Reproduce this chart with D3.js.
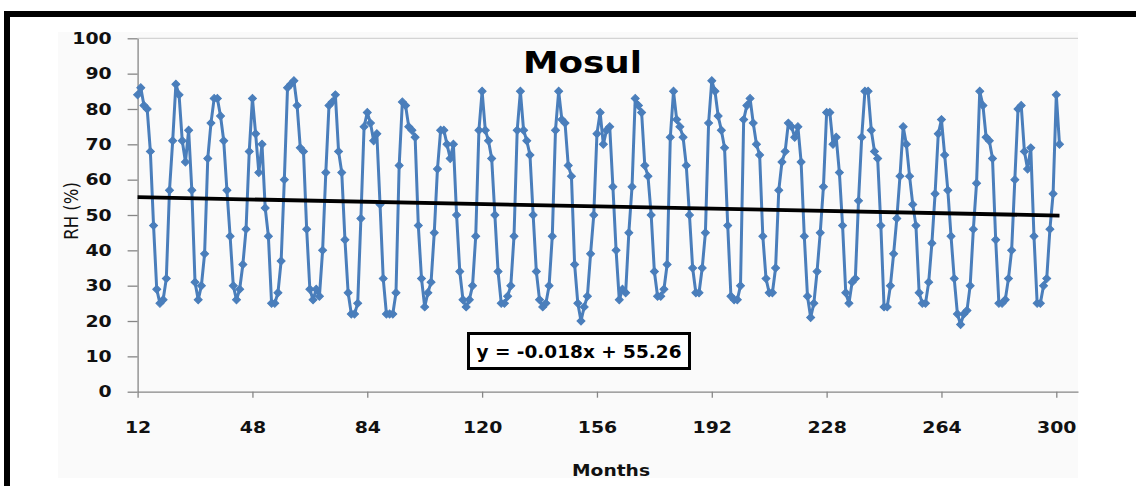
<!DOCTYPE html>
<html>
<head>
<meta charset="utf-8">
<script src="https://cdn.jsdelivr.net/npm/d3@7/dist/d3.min.js"></script>
<style>
  html, body { margin: 0; padding: 0; background: #ffffff; }
  svg { display: block; font-family: "DejaVu Sans", Verdana, sans-serif; }
</style>
</head>
<body>
<svg id="chart" width="1136" height="486"></svg>
<script>
// Monthly relative humidity, Mosul (one value per month, starting at month 12)
const firstMonth = 12;
const rhValues = [
  84, 86, 81, 80, 68, 47, 29, 25, 26, 32, 57, 71,
  87, 84, 71, 65, 74, 57, 31, 26, 30, 39, 66, 76,
  83, 83, 78, 71, 57, 44, 30, 26, 29, 36, 46, 68,
  83, 73, 62, 70, 52, 44, 25, 25, 28, 37, 60, 86,
  87, 88, 81, 69, 68, 46, 29, 26, 29, 27, 40, 62,
  81, 82, 84, 68, 62, 43, 28, 22, 22, 25, 49, 75,
  79, 76, 71, 73, 53, 32, 22, 22, 22, 28, 64, 82,
  81, 75, 74, 72, 47, 32, 24, 28, 31, 45, 63, 74,
  74, 70, 66, 70, 50, 34, 26, 24, 26, 30, 44, 74,
  85, 74, 71, 66, 50, 34, 25, 25, 27, 30, 44, 74,
  85, 74, 71, 67, 50, 34, 26, 24, 25, 30, 44, 74,
  85, 77, 76, 64, 61, 36, 25, 20, 24, 27, 39, 50,
  73, 79, 70, 74, 75, 58, 40, 26, 29, 28, 45, 58,
  83, 81, 79, 64, 61, 50, 34, 27, 27, 29, 36, 72,
  85, 77, 75, 72, 64, 50, 35, 28, 28, 35, 45, 76,
  88, 85, 78, 74, 69, 47, 27, 26, 26, 30, 77, 81,
  83, 76, 70, 67, 44, 32, 28, 28, 35, 57, 65, 68,
  76, 75, 72, 75, 65, 44, 27, 21, 25, 34, 45, 58,
  79, 79, 70, 72, 62, 47, 28, 25, 31, 32, 54, 72,
  85, 85, 74, 68, 66, 47, 24, 24, 30, 39, 49, 61,
  75, 70, 61, 53, 47, 28, 25, 25, 31, 42, 56, 73,
  77, 67, 57, 44, 32, 22, 19, 22, 23, 30, 46, 59,
  85, 81, 72, 71, 66, 43, 25, 25, 26, 32, 40, 60,
  80, 81, 68, 63, 69, 44, 25, 25, 30, 32, 46, 56,
  84, 70
];
const monthTicks = [12, 48, 84, 120, 156, 192, 228, 264, 300];
const rhTicks = [0, 10, 20, 30, 40, 50, 60, 70, 80, 90, 100];

// Linear trend of RH against month
const trendSlope = -0.018;
const trendIntercept = 55.26;

const titleText = "Mosul";
const xTitle = "Months";
const yTitle = "RH (%)";
const equationText = "y = -0.018x + 55.26";

const series = rhValues.map((v, i) => ({ month: firstMonth + i, rh: v }));

const svg = d3.select("#chart");

// outer frame (top and left edges)
svg.append("rect").attr("x", 4).attr("y", 11).attr("width", 1132).attr("height", 6).attr("fill", "#000");
svg.append("rect").attr("x", 4).attr("y", 11).attr("width", 6).attr("height", 475).attr("fill", "#000");

// chart area
svg.append("rect").attr("x", 58).attr("y", 32).attr("width", 1020).attr("height", 446).attr("fill", "#fafafa");

const plotLeft = 137.6, plotRight = 1078, plotTop = 38.3, plotBottom = 391.7;

// month 12 sits on the y axis, month 300 at its last labelled tick; the axis runs a little past it
const x = d3.scaleLinear().domain([12, 300]).range([plotLeft, 1056.3]);
x.domain([12, x.invert(plotRight)]).range([plotLeft, plotRight]);
const y = d3.scaleLinear().domain([0, 100]).range([plotBottom, plotTop]);

const axisColor = "#868686";

// top border of plot area
svg.append("line")
  .attr("x1", plotLeft).attr("x2", plotRight)
  .attr("y1", y(100)).attr("y2", y(100))
  .attr("stroke", "#d4d4d4").attr("stroke-width", 1.2);

// y axis
const yAxisG = svg.append("g")
  .attr("transform", `translate(${plotLeft},0)`)
  .call(d3.axisLeft(y).tickValues(rhTicks).tickSize(10).tickSizeOuter(0).tickPadding(12));
yAxisG.select(".domain").attr("stroke", axisColor).attr("stroke-width", 1.3);
yAxisG.selectAll(".tick line").attr("stroke", axisColor).attr("stroke-width", 1.3);
yAxisG.selectAll(".tick text")
  .attr("font-family", "DejaVu Sans, Verdana, sans-serif")
  .attr("font-size", 16).attr("font-weight", "bold").attr("fill", "#111")
  .attr("transform", "scale(1.18,1)");

// x axis
const xAxisG = svg.append("g")
  .attr("transform", `translate(0,${plotBottom})`)
  .call(d3.axisBottom(x).tickValues(monthTicks).tickSize(6).tickSizeOuter(0).tickPadding(24)
        .tickFormat(d3.format("d")));
xAxisG.select(".domain").attr("stroke", axisColor).attr("stroke-width", 1.3);
xAxisG.selectAll(".tick line").attr("stroke", axisColor).attr("stroke-width", 1.3);
xAxisG.selectAll(".tick text")
  .attr("font-family", "DejaVu Sans, Verdana, sans-serif")
  .attr("font-size", 16).attr("font-weight", "bold").attr("fill", "#111")
  .attr("transform", "scale(1.18,1)");

// RH series
const line = d3.line().x(d => x(d.month)).y(d => y(d.rh));
svg.append("path")
  .datum(series)
  .attr("d", line)
  .attr("fill", "none")
  .attr("stroke", "#4a7ebb")
  .attr("stroke-width", 3)
  .attr("stroke-linejoin", "round");

const diamond = d3.symbol().type(d3.symbolSquare).size(32);
svg.append("g").selectAll("path")
  .data(series)
  .join("path")
  .attr("d", diamond)
  .attr("transform", d => `translate(${x(d.month)},${y(d.rh)}) rotate(45)`)
  .attr("fill", "#4a7ebb")
  .attr("stroke", "#4a7ebb")
  .attr("stroke-width", 1);

// trend line
const trendPts = [series[0].month, series[series.length - 1].month]
  .map(m => ({ month: m, rh: trendSlope * m + trendIntercept }));
svg.append("path")
  .datum(trendPts)
  .attr("d", line)
  .attr("fill", "none")
  .attr("stroke", "#000")
  .attr("stroke-width", 3.8);

// title
svg.append("text")
  .attr("x", 582.5).attr("y", 73)
  .attr("text-anchor", "middle")
  .attr("font-size", 31).attr("font-weight", "bold").attr("fill", "#000")
  .attr("textLength", 119).attr("lengthAdjust", "spacingAndGlyphs")
  .text(titleText);

// equation box
svg.append("rect")
  .attr("x", 468.5).attr("y", 333.5).attr("width", 221).attr("height", 35)
  .attr("fill", "#fff").attr("stroke", "#000").attr("stroke-width", 3);
svg.append("text")
  .attr("x", 579).attr("y", 358)
  .attr("text-anchor", "middle")
  .attr("font-size", 18).attr("font-weight", "bold").attr("fill", "#000")
  .attr("textLength", 205).attr("lengthAdjust", "spacingAndGlyphs")
  .text(equationText);

// axis titles
svg.append("text")
  .attr("x", 611).attr("y", 476)
  .attr("text-anchor", "middle")
  .attr("font-size", 16).attr("font-weight", "bold").attr("fill", "#111")
  .attr("textLength", 78).attr("lengthAdjust", "spacingAndGlyphs")
  .text(xTitle);

svg.append("text")
  .attr("transform", "translate(78,211) scale(1.13,1) rotate(-90)")
  .attr("text-anchor", "middle")
  .attr("font-size", 16.5).attr("fill", "#111")
  .text(yTitle);
</script>
</body>
</html>
